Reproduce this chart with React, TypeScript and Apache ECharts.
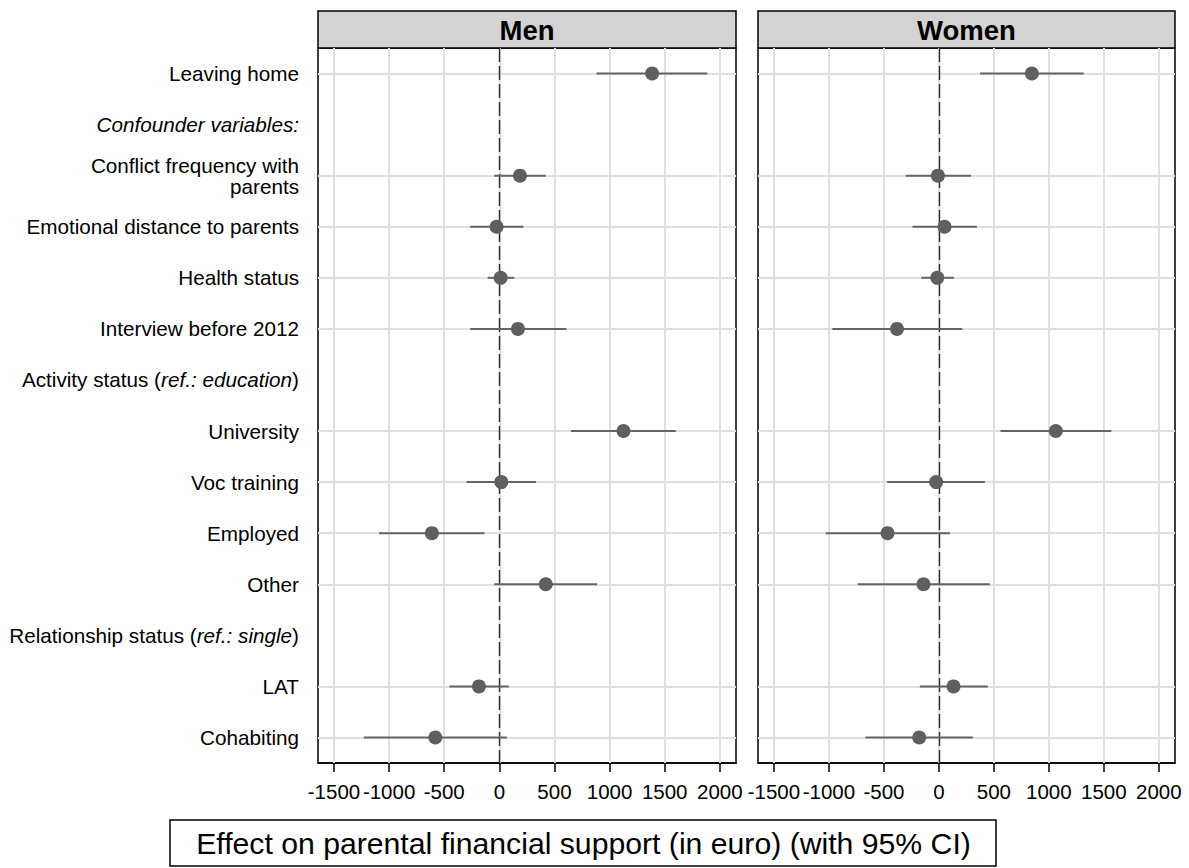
import React, { useEffect, useRef } from "react";
import * as echarts from "echarts";

// Row labels, top to bottom (heading rows carry no estimate)
const categories = [
  "Leaving home",
  "Confounder variables:",
  "Conflict frequency with\nparents",
  "Emotional distance to parents",
  "Health status",
  "Interview before 2012",
  "Activity status (ref.: education)",
  "University",
  "Voc training",
  "Employed",
  "Other",
  "Relationship status (ref.: single)",
  "LAT",
  "Cohabiting",
];

// Point estimates and 95% CI bounds (euro)
const menEst = [1386, null, 187, -25, 12, 169, null, 1126, 18, -612, 421, null, -185, -581];
const menLo = [881, null, -45, -264, -106, -264, null, 650, -297, -1090, -45, null, -454, -1230];
const menHi = [1886, null, 420, 218, 136, 608, null, 1601, 333, -136, 887, null, 87, 69];

const womenEst = [845, null, -9, 51, -15, -381, null, 1063, -25, -467, -140, null, 133, -179];
const womenLo = [375, null, -303, -240, -161, -969, null, 560, -470, -1030, -739, null, -173, -667];
const womenHi = [1317, null, 291, 345, 136, 212, null, 1568, 418, 100, 463, null, 445, 309];

const xTicks = [-1500, -1000, -500, 0, 500, 1000, 1500, 2000];
const panelTitles = ["Men", "Women"];
const axisTitle = "Effect on parental financial support (in euro) (with 95% CI)";

const FONT = "'Liberation Sans', Arial, Helvetica, sans-serif";
const X_MIN = -1645;
const X_MAX = 2147;

const hasEstimate = (i: number) => menEst[i] !== null;

// Rich-text markup for the row labels (italic parts)
function labelMarkup(label: string): string {
  if (label === "Confounder variables:") return "{i|Confounder variables:}";
  const m = label.match(/^(.*\()(ref\.: [^)]*)(\))$/);
  if (m) return `{n|${m[1]}}{i|${m[2]}}{n|${m[3]}}`;
  return label;
}

const panels = [
  { left: 318, width: 418, est: menEst, lo: menLo, hi: menHi },
  { left: 758, width: 417, est: womenEst, lo: womenLo, hi: womenHi },
];
const TOP = 48;
const HEIGHT = 715;
const LABEL_SIZE = 20.7;

export default function App() {
  const ref = useRef<HTMLDivElement>(null);

  useEffect(() => {
    if (!ref.current) return;
    const chart = echarts.init(ref.current, null, { renderer: "svg" });

    const grids = panels.map((p) => ({
      left: p.left,
      top: TOP,
      width: p.width,
      height: HEIGHT,
      show: true,
      borderColor: "#000",
      borderWidth: 1.5,
      backgroundColor: "#fff",
    }));

    const xAxes = panels.map((_, gi) => ({
      type: "value",
      gridIndex: gi,
      min: X_MIN,
      max: X_MAX,
      axisLine: { show: true, lineStyle: { color: "#000", width: 1.5 } },
      axisTick: {
        show: true,
        customValues: xTicks,
        length: 9,
        lineStyle: { color: "#000", width: 1.5 },
      },
      axisLabel: {
        customValues: xTicks,
        formatter: (v: number) => String(v),
        color: "#000",
        fontSize: 20.5,
        fontFamily: FONT,
        margin: 18,
      },
      splitLine: { show: false },
    }));

    const yAxes = panels.map((_, gi) => ({
      type: "category",
      gridIndex: gi,
      data: categories,
      inverse: true,
      boundaryGap: true,
      axisLine: { show: true, lineStyle: { color: "#000", width: 1.5 } },
      axisTick: {
        show: true,
        alignWithLabel: true,
        interval: (i: number) => hasEstimate(i),
        length: 9,
        lineStyle: { color: "#000", width: 1.5 },
      },
      axisLabel: {
        show: gi === 0,
        interval: 0,
        margin: 19,
        color: "#000",
        fontSize: LABEL_SIZE,
        fontFamily: FONT,
        lineHeight: 21,
        align: "right",
        formatter: (v: string) => labelMarkup(v),
        rich: {
          n: { fontSize: LABEL_SIZE, fontFamily: FONT, color: "#000" },
          i: { fontSize: LABEL_SIZE, fontFamily: FONT, color: "#000", fontStyle: "italic" },
        },
      },
      splitLine: { show: false },
    }));

    const series: any[] = [];
    panels.forEach((p, gi) => {
      const rows = categories.map((_, i) => i).filter(hasEstimate);
      // gridlines and the zero reference line
      series.push({
        type: "scatter",
        xAxisIndex: gi,
        yAxisIndex: gi,
        data: [],
        silent: true,
        markLine: {
          silent: true,
          symbol: "none",
          animation: false,
          label: { show: false },
          lineStyle: { color: "#e0e0e0", width: 2, type: "solid" },
          data: [
            ...xTicks.map((v) => ({ xAxis: v })),
            ...rows.map((i) => ({ yAxis: categories[i] })),
            { xAxis: 0, lineStyle: { color: "#2a2a2a", width: 1.4, type: [14, 4] } },
          ],
        },
      });
      // confidence intervals
      series.push({
        type: "custom",
        xAxisIndex: gi,
        yAxisIndex: gi,
        z: 10,
        data: rows.map((i) => [p.est[i], i, p.lo[i], p.hi[i]]),
        encode: { x: [0, 2, 3], y: 1 },
        renderItem: (params: any, api: any) => {
          const y = api.value(1);
          const a = api.coord([api.value(2), y]);
          const b = api.coord([api.value(3), y]);
          return {
            type: "line",
            shape: { x1: a[0], y1: a[1], x2: b[0], y2: b[1] },
            style: { stroke: "#646464", lineWidth: 2 },
          };
        },
      });
      // point estimates
      series.push({
        type: "scatter",
        xAxisIndex: gi,
        yAxisIndex: gi,
        z: 11,
        symbol: "circle",
        symbolSize: 14,
        itemStyle: { color: "#5f5f5f", opacity: 1 },
        data: rows.map((i) => [p.est[i], i]),
      });
    });

    const graphic: any[] = [];
    panels.forEach((p, gi) => {
      graphic.push({
        type: "rect",
        shape: { x: p.left, y: 11, width: p.width, height: 37 },
        style: { fill: "#d3d3d3", stroke: "#000", lineWidth: 1.5 },
        z: 1,
      });
      graphic.push({
        type: "text",
        x: p.left + p.width / 2,
        y: 30,
        z: 2,
        style: {
          text: panelTitles[gi],
          fill: "#000",
          fontSize: 27.5,
          fontWeight: "bold",
          fontFamily: FONT,
          align: "center",
          verticalAlign: "middle",
        },
      });
    });
    graphic.push({
      type: "rect",
      shape: { x: 170, y: 820, width: 826, height: 46 },
      style: { fill: "#fff", stroke: "#000", lineWidth: 1.5 },
      z: 1,
    });
    graphic.push({
      type: "text",
      x: 583.5,
      y: 843,
      z: 2,
      style: {
        text: axisTitle,
        fill: "#000",
        fontSize: 30.2,
        fontFamily: FONT,
        align: "center",
        verticalAlign: "middle",
      },
    });

    chart.setOption({
      animation: false,
      backgroundColor: "#fff",
      grid: grids,
      xAxis: xAxes,
      yAxis: yAxes,
      series,
      graphic,
    });

    return () => chart.dispose();
  }, []);

  return (
    <div
      ref={ref}
      style={{ position: "absolute", left: 0, top: 0, width: 1189, height: 868 }}
    />
  );
}
